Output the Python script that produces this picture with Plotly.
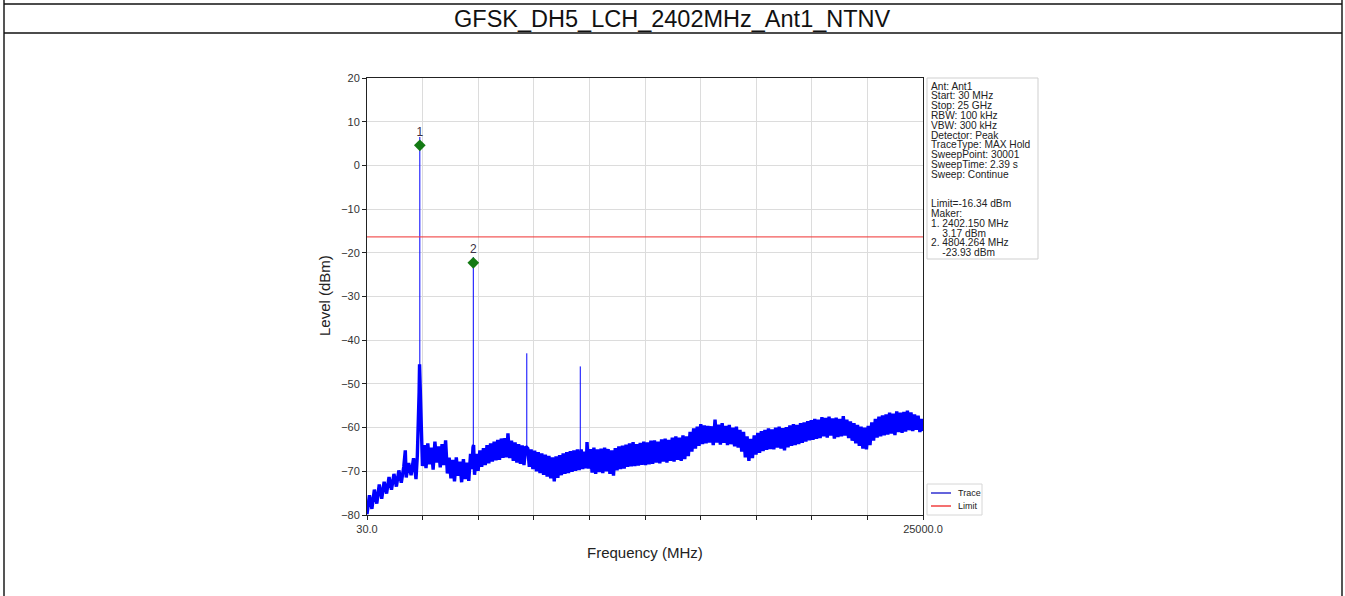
import plotly.graph_objects as go

# noise floor of the spectrum trace (MHz, dBm)
FREQ_MHZ = [
    30, 140, 250, 360, 470, 580, 690, 800, 910, 1020,
    1130, 1240, 1350, 1460, 1570, 1680, 1750, 1790, 1900, 2010,
    2120, 2230, 2290, 2340, 2370, 2390, 2398, 2406, 2420,
    2445, 2470, 2520, 2600, 2680, 2760, 2840, 2920, 3000, 3080,
    3160, 3240, 3320, 3400, 3480, 3560, 3640, 3720, 3800, 3880,
    3960, 4040, 4120, 4200, 4280, 4360, 4440, 4520, 4600, 4680,
    4740, 4790, 4818, 4860, 4940, 5020, 5100, 5180, 5260,
    5340, 5420, 5500, 5580, 5660, 5740, 5820, 5900, 5980, 6060,
    6140, 6220, 6300, 6360, 6440, 6520, 6600, 6680, 6760, 6840,
    6920, 7000, 7080, 7160, 7250, 7320, 7400, 7480, 7560,
    7640, 7720, 7800, 7880, 7960, 8040, 8120, 8200, 8280, 8360,
    8440, 8520, 8600, 8680, 8760, 8840, 8920, 9000, 9080, 9160,
    9240, 9320, 9400, 9480, 9560, 9650, 9720, 9800, 9880,
    9910, 9980, 10060, 10140, 10220, 10300, 10380, 10460, 10540, 10620,
    10700, 10780, 10860, 10940, 11020, 11100, 11180, 11260, 11340, 11420,
    11500, 11580, 11660, 11740, 11820, 11900, 11980, 12060, 12140, 12220,
    12300, 12380, 12460, 12540, 12620, 12700, 12780, 12860, 12940, 13020,
    13100, 13180, 13260, 13340, 13420, 13500, 13580, 13660, 13740, 13820,
    13900, 13980, 14060, 14140, 14220, 14300, 14380, 14460, 14540, 14620,
    14700, 14780, 14860, 14940, 15020, 15100, 15180, 15260, 15340, 15420,
    15500, 15580, 15660, 15740, 15820, 15900, 15980, 16060, 16140, 16220,
    16300, 16380, 16460, 16540, 16620, 16700, 16780, 16860, 16940, 17020,
    17100, 17180, 17260, 17340, 17420, 17500, 17580, 17660, 17740, 17820,
    17900, 17980, 18060, 18140, 18220, 18300, 18380, 18460, 18540, 18620,
    18700, 18780, 18860, 18940, 19020, 19100, 19180, 19260, 19340, 19420,
    19500, 19580, 19660, 19740, 19820, 19900, 19980, 20060, 20140, 20220,
    20300, 20380, 20460, 20540, 20620, 20700, 20780, 20860, 20940, 21020,
    21100, 21180, 21260, 21340, 21420, 21500, 21580, 21660, 21740, 21820,
    21900, 21980, 22060, 22140, 22220, 22300, 22380, 22460, 22540, 22620,
    22700, 22780, 22860, 22940, 23020, 23100, 23180, 23260, 23340, 23420,
    23500, 23580, 23660, 23740, 23820, 23900, 23980, 24060, 24140, 24220,
    24300, 24380, 24460, 24540, 24620, 24700, 24780, 24860, 24940, 25000,
]
LEVEL_DBM = [
    -79.8, -75.5, -78.6, -74.2, -77.4, -73.0, -76.3, -72.4, -75.1, -71.3,
    -74.2, -70.6, -73.5, -69.8, -72.6, -69.0, -65.2, -71.4, -68.1, -70.9,
    -67.0, -71.8, -66.5, -60.0, -52.0, -45.5, -47.0, -46.0, -49.0,
    -56.0, -63.5, -68.8, -64.0, -69.3, -63.6, -68.4, -64.6, -69.6, -63.2,
    -68.0, -64.3, -69.1, -63.8, -68.6, -62.9, -70.5, -66.9, -71.6, -67.4,
    -72.3, -66.8, -71.0, -67.8, -72.5, -67.2, -71.8, -68.0, -72.2, -66.0,
    -69.5, -64.5, -64.0, -70.8, -66.0, -69.9, -65.2, -69.0, -64.7,
    -68.6, -64.0, -68.2, -63.6, -67.8, -63.2, -67.5, -62.8, -67.4, -62.5,
    -66.9, -62.4, -66.8, -61.3, -67.0, -63.0, -67.6, -63.4, -68.0, -63.8,
    -68.3, -64.1, -68.6, -64.3, -64.8, -69.0, -65.0, -69.5, -65.3,
    -70.0, -65.6, -70.4, -65.9, -70.8, -66.2, -71.2, -66.5, -71.6, -66.8,
    -72.3, -66.6, -71.5, -66.3, -70.9, -65.9, -70.6, -65.6, -70.4, -65.4,
    -70.1, -65.2, -69.9, -65.0, -69.7, -65.0, -69.5, -65.5, -69.3,
    -63.3, -69.4, -64.9, -70.3, -64.6, -70.6, -65.0, -70.2, -64.8, -70.4,
    -64.6, -70.0, -64.9, -70.6, -65.2, -71.0, -64.7, -69.8, -64.3, -69.5,
    -64.1, -69.4, -63.9, -69.0, -63.6, -68.9, -63.3, -68.8, -63.8, -68.7,
    -63.5, -68.5, -63.2, -68.6, -63.4, -68.4, -63.0, -68.3, -62.9, -68.0,
    -63.2, -68.2, -62.7, -67.8, -62.5, -68.0, -62.8, -67.6, -62.3, -67.8,
    -62.0, -67.4, -62.3, -67.6, -61.8, -67.2, -62.0, -66.5, -61.0, -65.5,
    -60.2, -64.8, -59.8, -64.2, -59.2, -63.8, -59.5, -63.6, -59.6, -63.4,
    -59.7, -64.0, -58.2, -63.4, -59.3, -63.9, -59.0, -63.5, -59.6, -64.0,
    -59.4, -63.8, -60.0, -64.3, -59.8, -64.6, -60.5, -65.5, -61.0, -66.8,
    -62.0, -67.6, -62.6, -67.0, -61.8, -66.2, -61.2, -65.8, -60.8, -65.4,
    -60.5, -65.1, -60.2, -64.9, -60.4, -65.0, -60.0, -64.6, -59.8, -64.8,
    -60.1, -65.2, -59.9, -64.5, -59.5, -64.2, -59.2, -64.0, -59.4, -63.8,
    -59.0, -63.5, -58.8, -63.2, -58.5, -62.9, -58.3, -62.8, -58.0, -62.6,
    -58.2, -62.4, -57.6, -62.0, -57.8, -62.3, -57.5, -61.8, -57.9, -62.5,
    -57.7, -62.2, -58.0, -62.0, -57.4, -61.8, -58.2, -62.4, -58.6, -63.0,
    -59.0, -63.6, -59.4, -64.2, -59.8, -64.8, -60.0, -65.0, -59.6, -64.0,
    -58.8, -63.0, -58.0, -62.3, -57.5, -62.0, -57.2, -61.8, -57.0, -61.6,
    -56.6, -61.4, -56.8, -61.7, -56.3, -61.0, -56.6, -61.2, -56.4, -60.9,
    -56.1, -60.6, -56.5, -60.8, -57.0, -60.5, -57.3, -61.0, -58.0, -60.8,
]

# narrow emissions (fundamental + harmonics)
SPIKE_FREQ = [2402.15, 4804.26, 7206.0, 9608.0]
SPIKE_TOP = [6.5, -21.0, -43.0, -46.0]
SPIKE_BASE = [-46.0, -64.5, -64.5, -65.5]

MARKER_FREQ = [2402.150, 4804.264]
MARKER_LEVEL = [4.6, -22.3]
MARKER_NAMES = ["1", "2"]
LIMIT_DBM = -16.34
F_START, F_STOP = 30.0, 25000.0
Y_MIN, Y_MAX = -80, 20

INFO_LINES = [
    "Ant: Ant1", "Start: 30 MHz", "Stop: 25 GHz", "RBW: 100 kHz", "VBW: 300 kHz",
    "Detector: Peak", "TraceType: MAX Hold", "SweepPoint: 30001",
    "SweepTime: 2.39 s", "Sweep: Continue", "", "",
    "Limit=-16.34 dBm", "Maker:", "1. 2402.150 MHz", "    3.17 dBm",
    "2. 4804.264 MHz", "    -23.93 dBm",
]

W, H = 1345, 596
PL, PR, PT, PB = 367, 923, 78, 515  # plot area in pixels
FONT = "Liberation Sans, Arial, sans-serif"


def px(x):
    return (x - PL) / (PR - PL)


def py(y):
    return (PB - y) / (PB - PT)


spike_x, spike_y = [], []
for f, top, base in zip(SPIKE_FREQ, SPIKE_TOP, SPIKE_BASE):
    spike_x += [f, f, None]
    spike_y += [base, top, None]

fig = go.Figure()
fig.add_trace(go.Scatter(x=FREQ_MHZ, y=LEVEL_DBM, mode="lines",
                         line=dict(color="#0000ff", width=3.4), name="Trace",
                         showlegend=False, hoverinfo="skip"))
fig.add_trace(go.Scatter(x=spike_x, y=spike_y, mode="lines",
                         line=dict(color="#0000ff", width=1), name="Trace",
                         showlegend=False, hoverinfo="skip"))
fig.add_trace(go.Scatter(x=[F_START, F_STOP], y=[LIMIT_DBM, LIMIT_DBM], mode="lines",
                         line=dict(color="rgba(240,60,60,0.85)", width=1.3),
                         name="Limit", showlegend=False))
fig.add_trace(go.Scatter(x=MARKER_FREQ, y=MARKER_LEVEL, mode="markers+text",
                         text=MARKER_NAMES, textposition="top center",
                         textfont=dict(size=12, color="#3a2f45", family=FONT),
                         marker=dict(symbol="diamond", size=9, color="#137a13"),
                         showlegend=False))

xticks = [F_START + k * (F_STOP - F_START) / 10 for k in range(11)]
xtext = ["30.0"] + [""] * 9 + ["25000.0"]

fig.update_xaxes(range=[F_START, F_STOP], tickvals=xticks, ticktext=xtext,
                 showgrid=True, gridcolor="#dcdcdc", gridwidth=1,
                 showline=True, linecolor="#222", linewidth=1, mirror=True,
                 ticks="outside", ticklen=4, tickcolor="#222", zeroline=False,
                 tickfont=dict(size=11, color="#333", family=FONT))
fig.update_yaxes(range=[Y_MIN, Y_MAX], dtick=10, tick0=0,
                 showgrid=True, gridcolor="#dcdcdc", gridwidth=1,
                 showline=True, linecolor="#222", linewidth=1, mirror=True,
                 ticks="outside", ticklen=4, tickcolor="#222", zeroline=False,
                 tickfont=dict(size=11, color="#333", family=FONT))

shapes = [
    # page frame / title cell
    dict(type="line", x0=px(4), x1=px(4), y0=py(0), y1=py(596), line=dict(color="#555", width=2)),
    dict(type="line", x0=px(1342), x1=px(1342), y0=py(0), y1=py(596), line=dict(color="#555", width=2)),
    dict(type="line", x0=px(4), x1=px(1342), y0=py(4), y1=py(4), line=dict(color="#111", width=1.5)),
    dict(type="line", x0=px(4), x1=px(1342), y0=py(33), y1=py(33), line=dict(color="#111", width=1.5)),
    # info box
    dict(type="rect", x0=px(927), x1=px(1038), y0=py(259), y1=py(78),
         line=dict(color="#cfcfcf", width=1), fillcolor="white"),
    # legend box
    dict(type="rect", x0=px(927), x1=px(982), y0=py(515), y1=py(484),
         line=dict(color="#d6d6d6", width=1), fillcolor="white"),
    dict(type="line", x0=px(931), x1=px(951), y0=py(493), y1=py(493), line=dict(color="#3030d0", width=1.5)),
    dict(type="line", x0=px(931), x1=px(951), y0=py(506), y1=py(506), line=dict(color="#f04040", width=1.5)),
]

ann = [
    dict(text="GFSK_DH5_LCH_2402MHz_Ant1_NTNV", x=px(672), y=py(19),
         font=dict(size=23.5, color="#111", family=FONT)),
    dict(text="Level (dBm)", x=px(324), y=py(296), textangle=-90,
         font=dict(size=15, color="#222", family=FONT)),
    dict(text="Frequency (MHz)", x=px(645), y=py(552),
         font=dict(size=15, color="#222", family=FONT)),
    dict(text="Trace", x=px(956), y=py(493), xanchor="left",
         font=dict(size=9, color="#222", family=FONT)),
    dict(text="Limit", x=px(956), y=py(506), xanchor="left",
         font=dict(size=9, color="#222", family=FONT)),
]
for i, line in enumerate(INFO_LINES):
    if not line:
        continue
    ann.append(dict(text=line.replace(" ", "&nbsp;") if line.startswith(" ") else line,
                    x=px(929), y=py(86 + i * 9.8), xanchor="left",
                    font=dict(size=10.2, color="#222", family=FONT)))

for a in ann:
    a.setdefault("xanchor", "center")
    a.setdefault("yanchor", "middle")
    a.update(xref="paper", yref="paper", showarrow=False)
for s in shapes:
    s.update(xref="paper", yref="paper")

fig.update_layout(width=W, height=H, margin=dict(l=PL, r=W - PR, t=PT, b=H - PB),
                  paper_bgcolor="white", plot_bgcolor="white",
                  shapes=shapes, annotations=ann, showlegend=False)

fig.write_html("out.html", config={"displayModeBar": False},
               post_script="document.body.style.margin='0';")
